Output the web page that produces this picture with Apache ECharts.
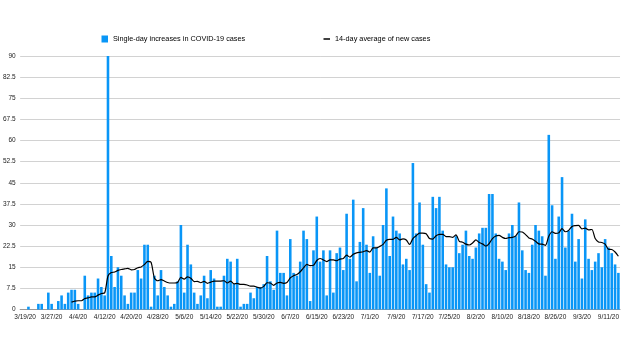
<!DOCTYPE html>
<html>
<head>
<meta charset="utf-8">
<script src="https://cdn.jsdelivr.net/npm/echarts@6/dist/echarts.min.js"></script>
<style>
html,body{margin:0;padding:0;background:#fff;}
#chart{width:622px;height:355px;}
</style>
</head>
<body>
<div id="chart"></div>
<script>
// Dates: 3/18/20 .. 9/14/20 (181 days)
const startDate = [2020, 2, 18];
const dayCount = 181;
const categories = [];
for (let i = 0; i < dayCount; i++) {
  const d = new Date(startDate[0], startDate[1], startDate[2] + i);
  categories.push((d.getMonth() + 1) + '/' + d.getDate() + '/20');
}

const dailyCases = [
  0, 0, 1, 0, 0, 2, 2, 0, 6, 2,
  0, 3, 5, 2, 6, 7, 7, 2, 0, 12,
  5, 6, 6, 11, 8, 5, 90, 19, 8, 15,
  12, 5, 2, 6, 6, 14, 11, 23, 23, 1,
  12, 5, 14, 8, 5, 1, 2, 10, 30, 6,
  23, 16, 6, 2, 5, 12, 4, 14, 11, 1,
  1, 12, 18, 17, 9, 18, 1, 2, 2, 6,
  4, 8, 8, 9, 19, 10, 7, 28, 13, 13,
  5, 25, 13, 12, 17, 28, 25, 3, 21, 33,
  17, 21, 5, 21, 6, 20, 22, 14, 34, 18,
  39, 10, 24, 36, 23, 13, 26, 22, 12, 30,
  43, 19, 33, 28, 27, 16, 18, 14, 52, 27,
  38, 23, 9, 6, 40, 36, 40, 28, 16, 15,
  15, 26, 20, 23, 28, 19, 18, 22, 27, 29,
  29, 41, 41, 27, 18, 17, 14, 27, 30, 26,
  38, 21, 14, 13, 23, 30, 28, 26, 12, 62,
  37, 18, 33, 47, 22, 28, 34, 17, 25, 11,
  32, 18, 14, 17, 20, 15, 25, 22, 20, 16,
  13
];

const avgCases = [
  null, null, null, null, null, null, null, null, null, null,
  null, null, null, null, null, 2.6, 3.0, 3.1, 3.1, 3.9,
  4.1, 4.5, 4.5, 5.1, 5.7, 5.9, 11.9, 13.1, 13.3, 13.9,
  14.2, 14.4, 14.6, 14.1, 14.2, 14.8, 15.1, 16.0, 17.1, 16.8,
  11.2, 10.2, 10.6, 10.1, 9.6, 9.4, 9.4, 9.6, 11.4, 10.8,
  11.6, 11.1, 9.9, 10.0, 9.5, 10.0, 9.3, 9.7, 10.1, 10.1,
  10.1, 10.2, 9.4, 10.1, 9.1, 9.3, 8.9, 8.9, 8.7, 8.3,
  8.3, 7.9, 7.6, 8.2, 9.5, 9.4, 8.6, 9.4, 9.6, 9.3,
  9.6, 11.2, 12.0, 12.4, 13.4, 14.8, 16.0, 15.6, 15.7, 17.4,
  18.1, 17.6, 17.0, 17.6, 17.6, 17.3, 17.9, 18.1, 19.3, 18.6,
  19.6, 20.1, 20.3, 20.5, 20.9, 20.4, 21.9, 21.9, 22.4, 23.1,
  24.6, 24.9, 24.9, 25.6, 24.7, 25.1, 24.7, 23.1, 25.2, 26.2,
  27.1, 27.1, 26.9, 25.2, 25.0, 26.2, 26.7, 26.7, 25.9, 25.9,
  25.6, 26.5, 24.2, 23.9, 23.2, 22.9, 23.6, 24.7, 23.8, 23.3,
  22.5, 23.4, 25.2, 26.1, 26.3, 25.6, 25.2, 25.5, 25.6, 26.1,
  27.6, 27.5, 26.6, 25.4, 25.0, 24.2, 23.3, 23.2, 22.8, 26.0,
  27.6, 27.0, 27.2, 28.7, 27.6, 28.1, 29.5, 29.8, 29.9, 28.6,
  28.9, 28.3, 28.4, 25.2, 24.0, 23.8, 23.2, 21.4, 21.3, 20.4,
  18.9
];

const yTicks = { min: 0, max: 90, step: 7.5 };
const seriesNames = ['Single-day increases in COVID-19 cases', '14-day average of new cases'];

const FONT = '"Liberation Sans", Arial, Helvetica, sans-serif';
const chart = echarts.init(document.getElementById('chart'), null, { renderer: 'canvas' });
chart.setOption({
  animation: false,
  backgroundColor: '#fff',
  textStyle: { fontFamily: FONT },
  grid: { left: 18, right: 0, top: 56, bottom: 45.5, containLabel: false },
  legend: [
    {
      data: [{ name: seriesNames[0], icon: 'rect' }],
      left: 101.5, top: 35.5, padding: 0,
      itemWidth: 6.5, itemHeight: 7,
      textStyle: { fontSize: 7.3, color: '#000', fontFamily: FONT },
      selectedMode: false
    },
    {
      data: [{ name: seriesNames[1], icon: 'rect' }],
      left: 323.5, top: 35.5, padding: 0,
      itemWidth: 6.5, itemHeight: 1.5,
      textStyle: { fontSize: 7.3, color: '#000', fontFamily: FONT },
      selectedMode: false
    }
  ],
  xAxis: {
    type: 'category',
    data: categories,
    boundaryGap: true,
    axisTick: { show: false },
    axisLine: { show: true, lineStyle: { color: '#9a9a9a', width: 1 } },
    axisLabel: {
      fontSize: 6.5, color: '#222', margin: 4, fontFamily: FONT,
      interval: function (index) { return (index - 1) % 8 === 0; },
      hideOverlap: false
    },
    splitLine: { show: false }
  },
  yAxis: {
    type: 'value',
    min: yTicks.min, max: yTicks.max, interval: yTicks.step,
    axisLine: { show: false },
    axisTick: { show: false },
    axisLabel: { fontSize: 6.5, color: '#222', margin: 4.5, fontFamily: FONT },
    splitLine: { lineStyle: { color: '#d2d2d2', width: 1 } }
  },
  series: [
    {
      name: seriesNames[0],
      type: 'bar',
      data: dailyCases,
      itemStyle: { color: '#0996f7' },
      barCategoryGap: '22%'
    },
    {
      name: seriesNames[1],
      type: 'line',
      data: avgCases,
      symbol: 'none',
      smooth: 0.25,
      itemStyle: { color: '#000' },
      lineStyle: { color: '#000', width: 1.2 }
    }
  ]
});
</script>
</body>
</html>
